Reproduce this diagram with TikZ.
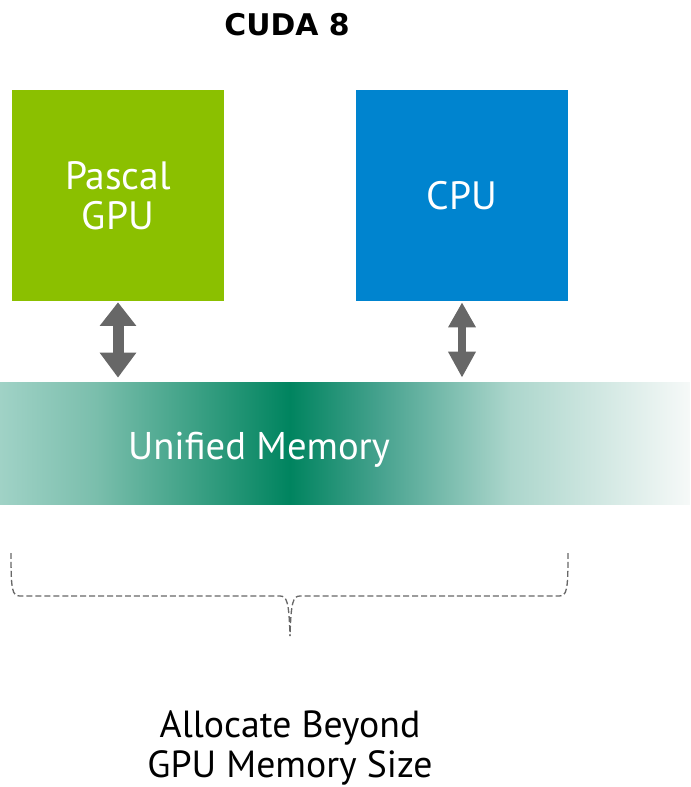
\documentclass[tikz,border=0pt]{standalone}
\usepackage{fontspec}
\setmainfont{PT Sans}
\newfontfamily\titlefont{DejaVu Sans}
\usetikzlibrary{arrows.meta}

\definecolor{nvgreen}{HTML}{8BC000}
\definecolor{cpublue}{HTML}{0084CF}
\definecolor{arrowgray}{HTML}{676767}
\definecolor{umA}{RGB}{160,210,198}
\definecolor{umB}{RGB}{122,190,172}
\definecolor{umC}{RGB}{0,132,95}
\definecolor{umD}{RGB}{70,162,142}
\definecolor{umE}{RGB}{172,214,204}
\definecolor{umF}{RGB}{246,249,248}

\pgfdeclarehorizontalshading{umem}{100bp}{color(0bp)=(umA); color(25bp)=(umA);
  color(32bp)=(umB); color(46bp)=(umC); color(52.5bp)=(umD);
  color(62bp)=(umE); color(75bp)=(umF); color(100bp)=(umF)}

\tikzset{
  chip/.style={minimum width=4.24cm, minimum height=4.22cm, inner sep=0pt,
    text=white, align=center, font=\fontsize{22.5}{23}\selectfont},
  xfer/.style={arrowgray, line cap=butt},
  brace/.style={arrowgray, line width=0.75pt, dash pattern=on 3.4pt off 1.7pt}
}

\begin{document}
\begin{tikzpicture}[x=0.02cm,y=-0.02cm]
  \useasboundingbox (0,0) rectangle (690,787);

  % Nodes
  \node[font=\titlefont\bfseries\fontsize{17}{20}\selectfont] (title) at (287,25) {CUDA 8};
  \node[chip, fill=nvgreen] (gpu) at (118,195.5) {Pascal\\GPU};
  \node[chip, fill=cpublue] (cpu) at (462,195.5) {\raisebox{-4pt}{CPU}};
  \node[shade, shading=umem, minimum width=13.8cm, minimum height=2.46cm,
    inner sep=0pt] (umem) at (345,443.5) {};
  \node[text=white, font=\fontsize{22}{24}\selectfont] (umemtxt) at (259,450) {Unified Memory};
  \node[align=center, font=\fontsize{21.5}{22.5}\selectfont] (alloc) at (290,748)
    {Allocate Beyond\\GPU Memory Size};

  % Transfers
  \coordinate (gpuin) at (gpu.south |- umem.north);
  \coordinate (cpuin) at (cpu.south |- umem.north);
  \draw[xfer, line width=0.22cm, {Triangle[width=0.7cm,length=0.47cm]}-{Triangle[width=0.7cm,length=0.5cm]},
    shorten <=0.02cm, shorten >=0.08cm] (gpu.south) -- (gpuin);
  \draw[xfer, line width=0.16cm, {Triangle[width=0.52cm,length=0.5cm]}-{Triangle[width=0.52cm,length=0.52cm]},
    shorten <=0.02cm, shorten >=0.08cm] (cpu.south) -- (cpuin);

  % Brace
  \coordinate (bl) at (11,553);
  \coordinate (br) at (568,553);
  \coordinate (bt) at (290,636);
  \draw[brace] (bl) .. controls (11,590) and (12,596) .. (20,596) -- (280,596)
    .. controls (287,596) and (289,602) .. (bt);
  \draw[brace] (br) .. controls (568,590) and (567,596) .. (559,596) -- (300,596)
    .. controls (293,596) and (291,602) .. (bt);
\end{tikzpicture}
\end{document}
